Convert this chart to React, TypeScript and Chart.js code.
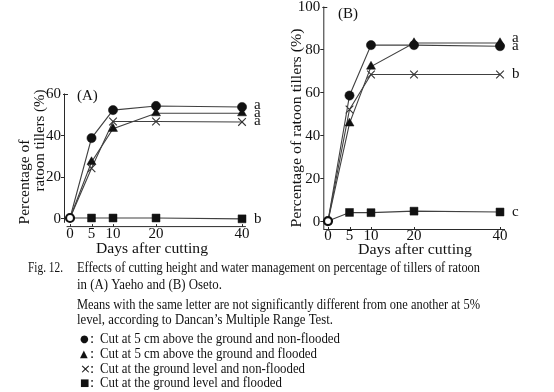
import React, { useEffect, useRef } from "react";
import { Chart, registerables } from "chart.js";

Chart.register(...registerables);

// Days after cutting at which ratoon tillers were counted
const days = [0, 5, 10, 20, 40];
const xTicks = [0, 5, 10, 20, 40];

// (A) Yaeho, percentage of ratoon tillers
const yaehoUpperDry = [0, 38.5, 52, 54, 53.5];
const yaehoUpperFlooded = [0, 27, 43, 50.5, 50.5];
const yaehoGroundDry = [0, 24, 46.5, 46.5, 46.3];
const yaehoGroundFlooded = [0, 0, 0, 0, -0.4];
const yaehoLetters = ["a", "a", "a", "b"];
const yTicksA = [0, 20, 40, 60];

// (B) Oseto, percentage of ratoon tillers
const osetoUpperDry = [0, 58.5, 82, 82, 81.5];
const osetoUpperFlooded = [0, 45.5, 72, 83, 83];
const osetoGroundDry = [0, 52, 68.3, 68.3, 68.3];
const osetoGroundFlooded = [0, 4, 3.9, 4.6, 4.2];
const osetoLetters = ["a", "a", "b", "c"];
const yTicksB = [0, 20, 40, 60, 80, 100];

const xTitle = "Days after cutting";
const yTitleLines = ["Percentage of", "ratoon tillers (%)"];
const yTitleOneLine = "Percentage of ratoon tillers (%)";

const captionLines = [
  "Effects of cutting height and water management on percentage of tillers of ratoon",
  "in (A) Yaeho and (B) Oseto.",
  "Means with the same letter are not significantly different from one another at 5%",
  "level, according to Dancan\u2019s Multiple Range Test.",
];
const legendSymbols = ["\u25CF", "\u25B2", "\u00D7", "\u25A0"];
const legendTexts = [
  "Cut at 5 cm above the ground and non-flooded",
  "Cut at 5 cm above the ground and flooded",
  "Cut at the ground level and non-flooded",
  "Cut at the ground level and flooded",
];

const INK = "#111111";
const LINE = "#404040";
const SERIF = '"Liberation Serif", "Times New Roman", serif';
const FONT = `15px ${SERIF}`;

function fitText(ctx: CanvasRenderingContext2D, text: string, x: number, y: number, width: number) {
  const w = ctx.measureText(text).width;
  ctx.save();
  ctx.translate(x, y);
  ctx.scale(width / w, 1);
  ctx.fillText(text, 0, 0);
  ctx.restore();
}

type PanelOpts = {
  label: string;
  labelPos: [number, number];
  yTicks: number[];
  yTop: number;
  yAxisEnd: number;
  xAxisStart: number;
  yTitle: { text: string; cx: number; cy: number; w: number }[];
  xTitle: { cx: number; cy: number; w: number };
  xLabelY: number;
  letters: string[];
  finals: number[];
  letterShift: number[];
};

function panelPlugin(o: PanelOpts) {
  return {
    id: "panelFrame",
    beforeDatasetsDraw(chart: any) {
      const ctx: CanvasRenderingContext2D = chart.ctx;
      const xs = chart.scales.x;
      const ys = chart.scales.y;
      const { left, bottom } = chart.chartArea;
      ctx.save();
      ctx.strokeStyle = "#2a2a2a";
      ctx.lineWidth = 1;
      // y axis
      const top = ys.getPixelForValue(o.yTop);
      ctx.beginPath();
      ctx.moveTo(left + 0.5, top);
      ctx.lineTo(left + 0.5, ys.getPixelForValue(o.yAxisEnd));
      ctx.stroke();
      // x axis
      ctx.beginPath();
      ctx.moveTo(xs.getPixelForValue(o.xAxisStart), bottom + 0.5);
      ctx.lineTo(chart.chartArea.right, bottom + 0.5);
      ctx.stroke();
      // y ticks
      o.yTicks.forEach((v) => {
        const py = Math.round(ys.getPixelForValue(v)) + 0.5;
        ctx.beginPath();
        if (v === o.yTop) {
          ctx.moveTo(left - 1, py);
          ctx.lineTo(left + 4, py);
        } else {
          ctx.moveTo(left - 3, py);
          ctx.lineTo(left + 0.5, py);
        }
        ctx.stroke();
      });
      // x ticks
      xTicks.forEach((v) => {
        const px = Math.round(xs.getPixelForValue(v)) + 0.5;
        ctx.beginPath();
        ctx.moveTo(px, bottom + 0.5);
        ctx.lineTo(px, bottom - 2);
        ctx.stroke();
      });
      ctx.fillStyle = INK;
      ctx.font = FONT;
      ctx.textBaseline = "middle";
      ctx.textAlign = "right";
      o.yTicks.forEach((v) => {
        ctx.fillText(String(v), left - 3, ys.getPixelForValue(v) + 1);
      });
      ctx.textAlign = "center";
      xTicks.forEach((v) => {
        ctx.fillText(String(v), xs.getPixelForValue(v), o.xLabelY);
      });
      // axis titles
      ctx.textAlign = "left";
      o.yTitle.forEach((t) => {
        ctx.save();
        ctx.translate(t.cx, t.cy);
        ctx.rotate(-Math.PI / 2);
        fitText(ctx, t.text, -t.w / 2, 0, t.w);
        ctx.restore();
      });
      fitText(ctx, xTitle, o.xTitle.cx - o.xTitle.w / 2, o.xTitle.cy, o.xTitle.w);
      // panel label
      ctx.fillText(o.label, o.labelPos[0], o.labelPos[1]);
      ctx.restore();
    },
    afterDatasetsDraw(chart: any) {
      const ctx: CanvasRenderingContext2D = chart.ctx;
      const xs = chart.scales.x;
      const ys = chart.scales.y;
      ctx.save();
      ctx.fillStyle = INK;
      ctx.font = FONT;
      ctx.textBaseline = "middle";
      ctx.textAlign = "left";
      const lx = xs.getPixelForValue(days[days.length - 1]) + 12;
      o.letters.forEach((l, i) => {
        ctx.fillText(l, lx, ys.getPixelForValue(o.finals[i]) + o.letterShift[i]);
      });
      ctx.restore();
    },
  };
}

function seriesDatasets(series: number[][]) {
  const styles = ["circle", "triangle", "crossRot", "rect"];
  const radii = [4.6, 5.2, 5.4, 5.6];
  const origin = {
    data: [{ x: days[0], y: series[0][0] }],
    showLine: false,
    pointStyle: "circle",
    pointRadius: 4,
    pointBackgroundColor: "#ffffff",
    pointBorderColor: "#111111",
    pointBorderWidth: 2.2,
    clip: false,
  };
  const lines = series.map((vals, s) => ({
    data: days.map((d, i) => ({ x: d, y: vals[i] })),
    showLine: true,
    borderColor: LINE,
    borderWidth: 1.1,
    tension: 0,
    pointStyle: styles[s],
    pointRadius: days.map((_, i) => (i === 0 ? 0 : radii[s])),
    pointBackgroundColor: "#111111",
    pointBorderColor: s === 2 ? "#333333" : "#111111",
    pointBorderWidth: s === 2 ? 1.1 : 0.5,
    clip: false,
  }));
  return [origin, ...lines];
}

function makePanel(
  canvas: HTMLCanvasElement,
  series: number[][],
  padding: { left: number; right: number; top: number; bottom: number },
  xRange: [number, number],
  yRange: [number, number],
  plugin: any
) {
  return new Chart(canvas, {
    type: "scatter",
    data: { datasets: seriesDatasets(series) as any },
    options: {
      animation: false,
      responsive: false,
      maintainAspectRatio: false,
      events: [],
      layout: { padding },
      plugins: { legend: { display: false }, tooltip: { enabled: false } },
      scales: {
        x: { type: "linear", display: false, min: xRange[0], max: xRange[1] },
        y: { type: "linear", display: false, min: yRange[0], max: yRange[1] },
      },
    },
    plugins: [plugin],
  });
}

function drawCaption(canvas: HTMLCanvasElement) {
  const ctx = canvas.getContext("2d");
  if (!ctx) return;
  ctx.clearRect(0, 0, canvas.width, canvas.height);
  ctx.fillStyle = INK;
  ctx.textBaseline = "middle";
  ctx.textAlign = "left";
  ctx.font = FONT;
  fitText(ctx, "Fig. 12.", 28, 13, 35);
  const capY = [13, 30.5, 50, 65.5];
  const capW = [403, 145, 403, 256];
  captionLines.forEach((t, i) => fitText(ctx, t, 77, capY[i], capW[i]));
  const legY = [84, 99, 114, 128];
  const legW = [240, 217, 205, 182];
  legendTexts.forEach((t, i) => {
    ctx.font = `${i === 2 ? 13 : 10}px "DejaVu Sans", sans-serif`;
    ctx.fillText(legendSymbols[i], 80, legY[i] + 0.5);
    ctx.font = FONT;
    ctx.fillText(":", 90, legY[i]);
    fitText(ctx, t, 100, legY[i], legW[i]);
  });
}

export default function App() {
  const refA = useRef<HTMLCanvasElement>(null);
  const refB = useRef<HTMLCanvasElement>(null);
  const refCap = useRef<HTMLCanvasElement>(null);

  useEffect(() => {
    if (!refA.current || !refB.current || !refCap.current) return;
    const seriesA = [yaehoUpperDry, yaehoUpperFlooded, yaehoGroundDry, yaehoGroundFlooded];
    const seriesB = [osetoUpperDry, osetoUpperFlooded, osetoGroundDry, osetoGroundFlooded];
    const last = days.length - 1;

    const chartA = makePanel(
      refA.current,
      seriesA,
      { left: 64, right: 24.1, top: 93.5, bottom: 33.9 },
      [-1.4, 40.9],
      [-3.9, 60],
      panelPlugin({
        label: "(A)",
        labelPos: [77, 96],
        yTicks: yTicksA,
        yTop: 60,
        yAxisEnd: -2.3,
        xAxisStart: -0.8,
        yTitle: [
          { text: yTitleLines[0], cx: 25, cy: 182, w: 85 },
          { text: yTitleLines[1], cx: 40.5, cy: 140.5, w: 102 },
        ],
        xTitle: { cx: 152, cy: 249, w: 112 },
        xLabelY: 234,
        letters: yaehoLetters,
        finals: seriesA.map((s) => s[last]),
        letterShift: [-2, 0, -1, 0],
      })
    );

    const chartB = makePanel(
      refB.current,
      seriesB,
      { left: 53.3, right: 49, top: 5.7, bottom: 31 },
      [-1.093, 41.16],
      [-3.716, 100],
      panelPlugin({
        label: "(B)",
        labelPos: [68, 14],
        yTicks: yTicksB,
        yTop: 100,
        yAxisEnd: -3.716,
        xAxisStart: -1.093,
        yTitle: [{ text: yTitleOneLine, cx: 27, cy: 128, w: 199 }],
        xTitle: { cx: 145, cy: 250, w: 114 },
        xLabelY: 236,
        letters: osetoLetters,
        finals: seriesB.map((s) => s[last]),
        letterShift: [0, -5, 0, 0],
      })
    );

    drawCaption(refCap.current);

    return () => {
      chartA.destroy();
      chartB.destroy();
    };
  }, []);

  return (
    <div
      style={{
        position: "absolute",
        left: 0,
        top: 0,
        width: 554,
        height: 392,
        background: "#ffffff",
        overflow: "hidden",
      }}
    >
      <canvas ref={refA} width={270} height={260} style={{ position: "absolute", left: 0, top: 0 }} />
      <canvas ref={refB} width={284} height={260} style={{ position: "absolute", left: 270, top: 0 }} />
      <canvas ref={refCap} width={554} height={137} style={{ position: "absolute", left: 0, top: 255 }} />
    </div>
  );
}
